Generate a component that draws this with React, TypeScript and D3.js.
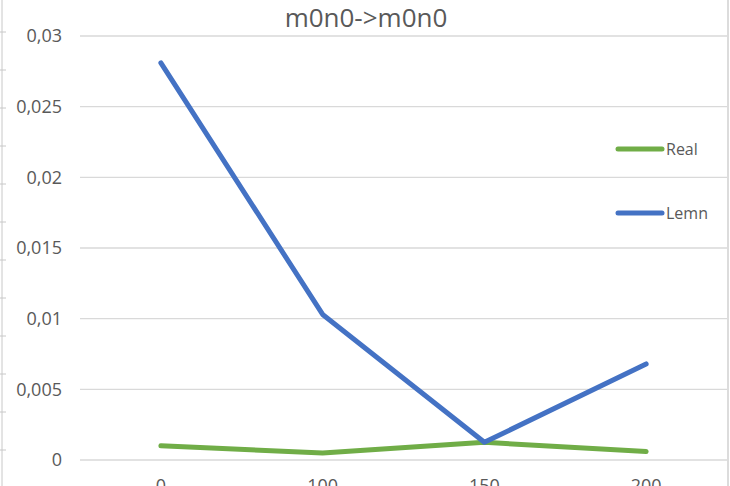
import React from "react";
import * as d3 from "d3";

const title = "m0n0->m0n0";
const categories = ["0", "100", "150", "200"];
const realValues = [0.001, 0.0005, 0.00125, 0.0006];
const lemnValues = [0.0281, 0.0103, 0.00125, 0.0068];
const yTicks = [0, 0.005, 0.01, 0.015, 0.02, 0.025, 0.03];
const seriesNames = ["Real", "Lemn"];

const W = 730;
const H = 486;
const font = "'Open Sans', 'Liberation Sans', sans-serif";

const App = () => {
  const x = d3.scaleBand().domain(categories).range([80, 727]);
  const y = d3.scaleLinear().domain([0, 0.03]).range([460, 36]);
  const cx = (c: string) => (x(c) as number) + x.bandwidth() / 2;

  const line = d3
    .line<number>()
    .x((_, i) => cx(categories[i]))
    .y((d) => y(d));

  const series = [
    { name: seriesNames[0], values: realValues, color: "#70AD47", ly: 149 },
    { name: seriesNames[1], values: lemnValues, color: "#4472C4", ly: 213 },
  ];

  // spreadsheet row marks at the left edge
  const rowMarks = d3.range(32, H, 38);

  return (
    <svg
      width={W}
      height={H}
      style={{ position: "absolute", left: 0, top: 0, background: "#fff" }}
    >
      <line x1={2} x2={2} y1={0} y2={H} stroke="#c8c8c8" strokeWidth={1} />
      {rowMarks.map((m) => (
        <line key={m} x1={0} x2={6} y1={m} y2={m} stroke="#c8c8c8" />
      ))}
      <line x1={728} x2={728} y1={0} y2={H} stroke="#d0d0d0" strokeWidth={1.5} />

      <text
        x={366}
        y={27}
        textAnchor="middle"
        fontFamily={font}
        fontSize={26}
        fill="#595959"
      >
        {title}
      </text>

      {yTicks.map((t) => (
        <g key={t}>
          <line
            x1={80}
            x2={727}
            y1={y(t)}
            y2={y(t)}
            stroke="#d9d9d9"
            strokeWidth={1.3}
          />
          <text
            x={62}
            y={y(t)}
            dy="0.35em"
            textAnchor="end"
            fontFamily={font}
            fontSize={18}
            fill="#595959"
          >
            {String(t).replace(".", ",")}
          </text>
        </g>
      ))}

      {categories.map((c) => (
        <text
          key={c}
          x={cx(c)}
          y={492}
          textAnchor="middle"
          fontFamily={font}
          fontSize={18}
          fill="#595959"
        >
          {c}
        </text>
      ))}

      {series.map((s) => (
        <path
          key={s.name}
          d={line(s.values) || ""}
          fill="none"
          stroke={s.color}
          strokeWidth={5}
          strokeLinecap="round"
          strokeLinejoin="round"
        />
      ))}

      {series.map((s) => (
        <g key={"lg" + s.name}>
          <line
            x1={618}
            x2={662}
            y1={s.ly}
            y2={s.ly}
            stroke={s.color}
            strokeWidth={5}
            strokeLinecap="round"
          />
          <text
            x={666}
            y={s.ly}
            dy="0.35em"
            fontFamily={font}
            fontSize={16}
            fill="#595959"
          >
            {s.name}
          </text>
        </g>
      ))}
    </svg>
  );
};

export default App;
